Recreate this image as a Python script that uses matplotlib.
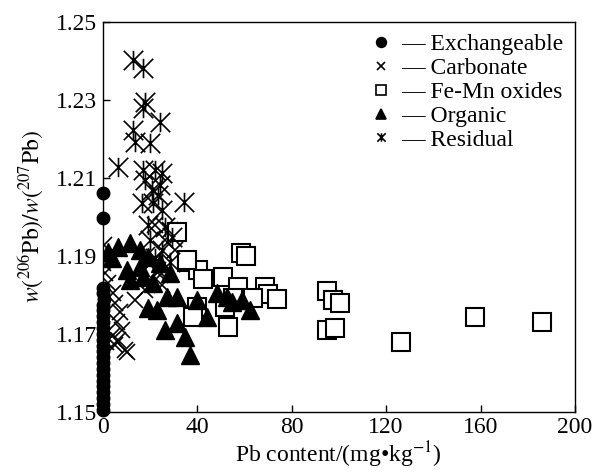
import matplotlib
matplotlib.use('Agg')
import matplotlib.pyplot as plt
from matplotlib.path import Path

plt.rcParams['font.family'] = 'Liberation Serif'
plt.rcParams['mathtext.fontset'] = 'stix'
plt.rcParams['font.size'] = 17

# Exchangeable (circulos pegados al eje)
exch_x = [0.2, 0.2, 0.3, 0.1, 0.4, 0.2, 0.1, 0.3, 0.2, 0.1, 0.3, 0.2, 0.1, 0.2,
          0.3, 0.1, 0.2, 0.3, 0.1, 0.2, 0.2, 0.1, 0.2, 0.3]
exch_y = [1.2062, 1.1998, 1.1818, 1.1805, 1.1790, 1.1775, 1.1760, 1.1745, 1.1730,
          1.1715, 1.1700, 1.1685, 1.1670, 1.1655, 1.1640, 1.1625, 1.1610, 1.1595,
          1.1580, 1.1565, 1.1550, 1.1535, 1.1520, 1.1505]

# Carbonate
carb_x = [0.8, 2.1, 4.2, 5.1, 7.2, 5.9, 8.1, 6.4, 9.3, 0.0, 1.3, 0.4, 1.3, 3.8,
          18.6, 20.8, 23.3, 19.9, 25.0, 17.8, 26.3, 28.4, 22.0, 30.5, 24.2, 13.6,
          10.2, 5.1]
carb_y = [1.1856, 1.1831, 1.1805, 1.1779, 1.1756, 1.1731, 1.1710, 1.1685, 1.1659,
          1.1882, 1.1895, 1.1928, 1.1680, 1.1695, 1.1903, 1.1885, 1.1864, 1.1838,
          1.1826, 1.1813, 1.1941, 1.1967, 1.1980, 1.1915, 1.1851, 1.1787, 1.1654,
          1.1672]

# Fe-Mn oxides
femn_x = [58.5, 60.6, 35.6, 40.3, 50.8, 42.4, 57.2, 68.6, 69.9, 73.7, 63.6, 55.1,
          51.7, 39.8, 53.0, 38.1, 94.9, 97.5, 100.4, 94.9, 98.3, 126.3, 157.6, 186.0,
          31.4, 35.6]
femn_y = [1.1908, 1.1900, 1.1885, 1.1864, 1.1846, 1.1841, 1.1821, 1.1821, 1.1803,
          1.1790, 1.1792, 1.1792, 1.1769, 1.1769, 1.1718, 1.1744, 1.1810, 1.1787,
          1.1779, 1.1710, 1.1715, 1.1680, 1.1744, 1.1731, 1.1960, 1.1890]

# Organic
org_x = [6.4, 11.4, 15.7, 19.1, 24.2, 28.4, 17.0, 21.2, 11.4, 27.1, 31.4, 22.9,
         19.1, 26.3, 31.4, 34.7, 36.9, 39.8, 44.1, 48.3, 52.5, 62.3, 15.7, 10.2,
         2.1, 3.8, 54.7, 58.9]
org_y = [1.1923, 1.1933, 1.1915, 1.1897, 1.1882, 1.1856, 1.1846, 1.1831, 1.1838,
         1.1795, 1.1795, 1.1762, 1.1767, 1.1710, 1.1728, 1.1692, 1.1646, 1.1787,
         1.1744, 1.1805, 1.1795, 1.1762, 1.1872, 1.1864, 1.1910, 1.1895, 1.1782,
         1.1787]

# Residual
res_x = [12.7, 17.0, 17.0, 17.8, 24.2, 12.7, 13.6, 19.9, 6.4, 17.0, 22.0, 25.0,
         17.8, 24.2, 16.5, 21.2, 34.3, 25.0, 19.1, 26.3, 29.2, 19.9, 25.0, 22.0,
         28.4, 23.3, 20.8]
res_y = [1.2403, 1.2382, 1.2279, 1.2295, 1.2244, 1.2223, 1.2192, 1.2190, 1.2128,
         1.2121, 1.2121, 1.2113, 1.2095, 1.2082, 1.2036, 1.2036, 1.2038, 1.2018,
         1.1979, 1.1974, 1.1949, 1.1941, 1.1915, 1.1895, 1.1885, 1.2056, 1.2069]

# marcador tipo X con barra vertical
star = Path([(-1, -1), (1, 1), (-1, 1), (1, -1), (0, -1), (0, 1)],
            [Path.MOVETO, Path.LINETO, Path.MOVETO, Path.LINETO, Path.MOVETO, Path.LINETO])

fig = plt.figure(figsize=(5.94, 4.75), dpi=100)
ax = fig.add_axes([0.173, 0.133, 0.795, 0.821])

ax.plot(exch_x, exch_y, 'o', color='black', ms=9, clip_on=False, label='— Exchangeable')
ax.plot(carb_x, carb_y, 'x', color='black', ms=12, mew=1.2, label='— Carbonate')
ax.plot(femn_x, femn_y, 's', mfc='white', mec='black', ms=13, mew=1.5, label='— Fe-Mn oxides')
ax.plot(org_x, org_y, '^', color='black', ms=13, label='— Organic')
ax.plot(res_x, res_y, marker=star, ls='none', color='black', ms=14, mew=1.2, label='— Residual')

ax.set_xlim(0, 200)
ax.set_ylim(1.15, 1.25)
ax.set_xticks([0, 40, 80, 120, 160, 200])
ax.set_yticks([1.15, 1.17, 1.19, 1.21, 1.23, 1.25])
ax.tick_params(direction='in', length=5, width=1, pad=4)
for s in ax.spines.values():
    s.set_linewidth(1)

ax.set_xlabel('Pb content/(mg•kg$^{-1}$)', labelpad=1)
ax.set_ylabel(r'$w(^{206}\mathrm{Pb})/w(^{207}\mathrm{Pb})$', labelpad=8)

leg = ax.legend(loc='upper right', frameon=False, handlelength=0.7, handletextpad=0.5,
                labelspacing=0.1, borderaxespad=0.1)
for h, ms in zip(leg.legend_handles, [7, 6, 7, 7, 6]):
    h.set_markersize(ms)
    h.set_markeredgewidth(1.2)

fig.savefig('out.png', dpi=100)
